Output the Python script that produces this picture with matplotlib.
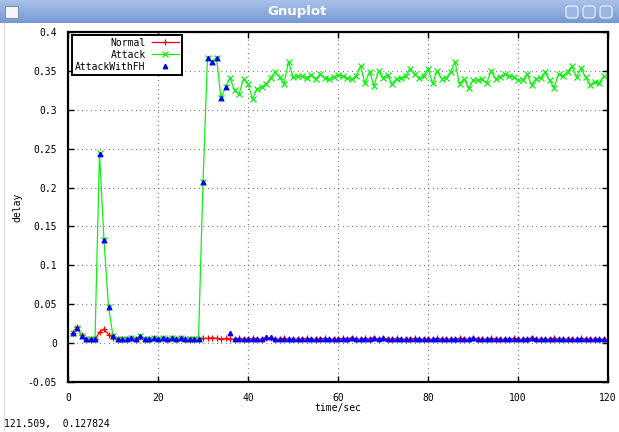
import numpy as np
import matplotlib
matplotlib.use("Agg")
import matplotlib.pyplot as plt
from matplotlib.patches import Rectangle, FancyBboxPatch

# Data, one sample per second
t = np.arange(1, 120)

normal = [0.013, 0.021, 0.010, 0.005, 0.005, 0.005, 0.014, 0.018, 0.011, 0.007,
          0.005, 0.005, 0.005, 0.006, 0.005, 0.008, 0.005, 0.005, 0.006, 0.005,
          0.006, 0.005, 0.006, 0.005, 0.006, 0.005, 0.005, 0.005, 0.005, 0.006,
          0.006, 0.007, 0.006, 0.005, 0.006, 0.005, 0.005, 0.006, 0.005, 0.005,
          0.006, 0.005, 0.005, 0.007, 0.007, 0.005, 0.005, 0.006, 0.005, 0.005,
          0.005, 0.005, 0.006, 0.005, 0.005, 0.005, 0.006, 0.005, 0.005, 0.005,
          0.006, 0.005, 0.007, 0.005, 0.005, 0.006, 0.005, 0.007, 0.005, 0.006,
          0.005, 0.005, 0.006, 0.005, 0.005, 0.005, 0.006, 0.005, 0.005, 0.005,
          0.005, 0.006, 0.005, 0.005, 0.005, 0.005, 0.006, 0.005, 0.005, 0.007,
          0.005, 0.005, 0.005, 0.006, 0.005, 0.005, 0.005, 0.005, 0.006, 0.005,
          0.005, 0.005, 0.007, 0.005, 0.005, 0.005, 0.005, 0.006, 0.005, 0.005,
          0.005, 0.005, 0.005, 0.006, 0.005, 0.005, 0.005, 0.005, 0.005]

attack = [0.013, 0.020, 0.009, 0.005, 0.005, 0.005, 0.245, 0.132, 0.047, 0.009,
          0.005, 0.005, 0.005, 0.006, 0.005, 0.009, 0.005, 0.005, 0.006, 0.005,
          0.006, 0.005, 0.006, 0.005, 0.006, 0.005, 0.005, 0.005, 0.005, 0.207,
          0.367, 0.362, 0.367, 0.315, 0.329, 0.341, 0.325, 0.320, 0.340, 0.333,
          0.314, 0.327, 0.329, 0.333, 0.341, 0.348, 0.342, 0.333, 0.362, 0.342,
          0.343, 0.344, 0.341, 0.345, 0.339, 0.346, 0.341, 0.339, 0.342, 0.345,
          0.343, 0.341, 0.339, 0.343, 0.356, 0.334, 0.349, 0.331, 0.350, 0.341,
          0.345, 0.333, 0.340, 0.341, 0.343, 0.353, 0.346, 0.341, 0.343, 0.353,
          0.334, 0.350, 0.340, 0.341, 0.348, 0.362, 0.333, 0.340, 0.328, 0.338,
          0.338, 0.339, 0.334, 0.350, 0.340, 0.342, 0.346, 0.344, 0.342, 0.338,
          0.338, 0.346, 0.332, 0.340, 0.341, 0.348, 0.338, 0.328, 0.346, 0.343,
          0.349, 0.356, 0.342, 0.354, 0.342, 0.332, 0.336, 0.334, 0.343]

attack_fh = [0.013, 0.020, 0.009, 0.005, 0.005, 0.005, 0.243, 0.132, 0.047, 0.009,
             0.005, 0.005, 0.005, 0.006, 0.005, 0.009, 0.005, 0.005, 0.006, 0.005,
             0.006, 0.005, 0.006, 0.005, 0.006, 0.005, 0.005, 0.005, 0.005, 0.207,
             0.367, 0.362, 0.367, 0.315, 0.329, 0.013, 0.005, 0.005, 0.005, 0.005,
             0.005, 0.005, 0.005, 0.008, 0.008, 0.005, 0.005, 0.005, 0.005, 0.005,
             0.005, 0.005, 0.005, 0.005, 0.005, 0.005, 0.005, 0.005, 0.005, 0.005,
             0.005, 0.005, 0.006, 0.005, 0.005, 0.005, 0.005, 0.007, 0.005, 0.007,
             0.005, 0.005, 0.005, 0.005, 0.005, 0.005, 0.005, 0.005, 0.005, 0.005,
             0.005, 0.005, 0.005, 0.005, 0.005, 0.005, 0.005, 0.005, 0.005, 0.007,
             0.005, 0.005, 0.005, 0.005, 0.005, 0.005, 0.005, 0.005, 0.005, 0.005,
             0.005, 0.005, 0.007, 0.005, 0.005, 0.005, 0.005, 0.005, 0.005, 0.005,
             0.005, 0.005, 0.005, 0.005, 0.005, 0.005, 0.005, 0.005, 0.005]

xticks = [0, 20, 40, 60, 80, 100, 120]
yticks = [-0.05, 0, 0.05, 0.1, 0.15, 0.2, 0.25, 0.3, 0.35, 0.4]
status = "121.509,  0.127824"

plt.rcParams["font.family"] = ["DejaVu Sans Mono"]
plt.rcParams["font.size"] = 7

W, H = 619, 432
fig = plt.figure(figsize=(W / 100, H / 100), dpi=100)
fig.patch.set_facecolor("white")

# window title bar
bar = fig.add_axes([0, 1 - 23 / H, 1, 23 / H])
grad = np.linspace(0, 1, 50).reshape(-1, 1)
bar.imshow(grad, aspect="auto", cmap=matplotlib.colors.LinearSegmentedColormap.from_list(
    "tb", ["#a9c2ea", "#7698d2"]), extent=[0, W, 0, 23])
bar.set_xlim(0, W)
bar.set_ylim(0, 23)
bar.axis("off")
bar.text(297, 11, "Gnuplot", color="white", fontsize=9.5, fontweight="bold",
         family="DejaVu Sans", ha="center", va="center")
bar.add_patch(Rectangle((5, 5), 13, 12, facecolor="#f4f6fa", edgecolor="#8090a8", lw=0.8))
for bx in [566, 583, 600]:
    bar.add_patch(FancyBboxPatch((bx, 5), 12, 12, boxstyle="round,pad=0,rounding_size=3",
                                 facecolor="#9cb6e2", edgecolor="#e8eef8", lw=0.9))

# left window border
fig.add_artist(plt.Line2D([4 / W, 4 / W], [0, 1 - 23 / H], color="#d8d8d8", lw=0.8))

ax = fig.add_axes([68 / W, 1 - 382 / H, 540 / W, 350 / H])
ax.plot(t, normal, color="#ff0000", lw=0.9, marker="+", ms=5, mew=0.9, label="Normal")
ax.plot(t, attack, color="#11f011", lw=0.9, marker="x", ms=4, mew=0.9, label="Attack")
ax.plot(t, attack_fh, color="#0000ff", lw=0, marker="^", ms=3.2, label="AttackWithFH")

ax.set_xlim(0, 120)
ax.set_ylim(-0.05, 0.4)
ax.set_xticks(xticks)
ax.set_yticks(yticks)
ax.set_yticklabels(["%g" % v for v in yticks])
ax.tick_params(direction="in", length=4, width=1, top=True, right=True, pad=8)
ax.grid(True, color="#505050", linestyle=(0, (0.6, 3.0)), lw=0.9)
for s in ax.spines.values():
    s.set_linewidth(1.6)
ax.set_xlabel("time/sec")
ax.set_ylabel("delay")
ax.xaxis.set_label_coords(0.5, -0.06)
ax.yaxis.set_label_coords(-0.085, 0.5)

leg = ax.legend(loc="upper left", bbox_to_anchor=(0.008, 0.992), markerfirst=False,
                fancybox=False, framealpha=1, edgecolor="black", handlelength=2.8,
                handletextpad=0.6, labelspacing=0.2, borderpad=0.3, borderaxespad=0)
leg.get_frame().set_linewidth(1.4)

fig.text(4 / W, 1 - 424 / H, status, ha="left", va="center", fontsize=7)

fig.savefig("out.png", dpi=100)
